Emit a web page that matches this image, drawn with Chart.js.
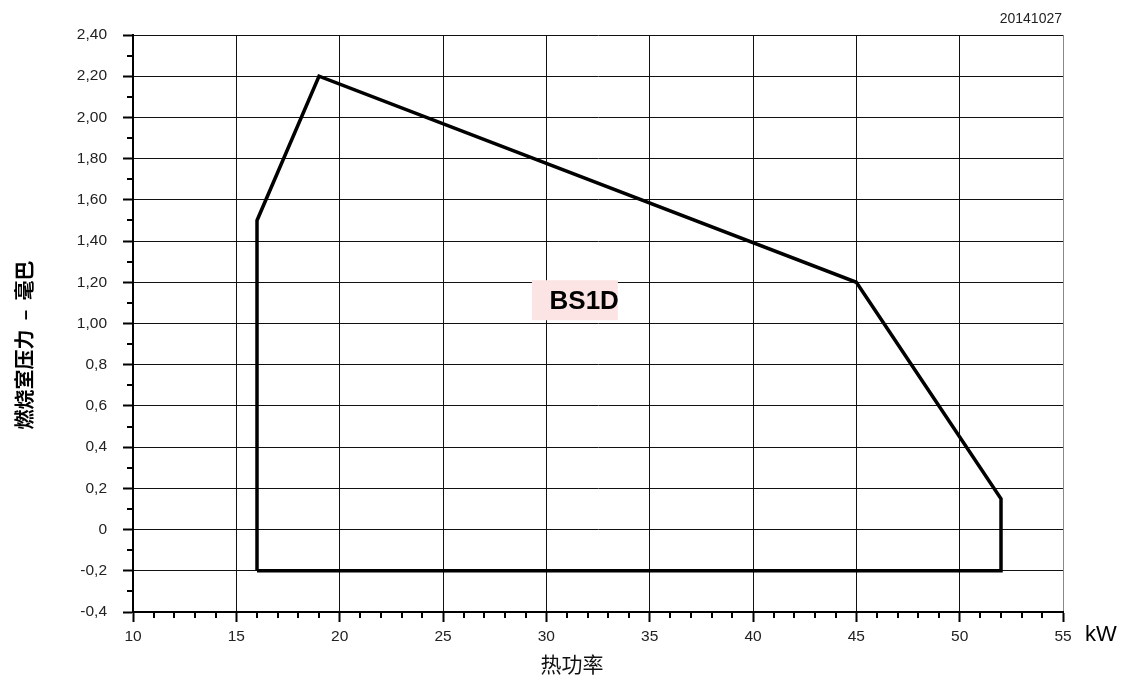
<!DOCTYPE html>
<html>
<head>
<meta charset="utf-8">
<script src="https://cdn.jsdelivr.net/npm/chart.js@4/dist/chart.umd.min.js"></script>
<style>
html,body{margin:0;padding:0;background:#fff;}
#wrap{width:1123px;height:675px;}
</style>
</head>
<body>
<div id="wrap"><canvas id="c" width="1123" height="675"></canvas></div>
<script>
// ---- data ----
const powerKW = [16, 16, 19, 45, 52, 52, 16];
const pressureMbar = [-0.2, 1.5, 2.2, 1.2, 0.15, -0.2, -0.2];
const xTitle = '热功率';
const yTitle = '燃烧室压力  –  毫巴';
const unitLabel = 'kW';
const dateLabel = '20141027';
const modelLabel = 'BS1D';
const modelAnchor = [29.3, 1.21]; // left/top of label box in data units

const TICK_FONT = '"Liberation Sans", Arial, sans-serif';

function fmtY(v) {
  const r = Math.round(v * 10) / 10;
  if (Math.abs(r) < 1e-9) return '0';
  if (Math.abs(r) >= 1) return r.toFixed(2).replace('.', ',');
  return r.toFixed(1).replace('.', ',');
}

const decor = {
  id: 'decor',
  afterDatasetsDraw(chart) {
    const ctx = chart.ctx;
    const xs = chart.scales.x, ys = chart.scales.y;
    const ca = chart.chartArea;
    ctx.save();
    // minor ticks
    ctx.strokeStyle = '#000';
    ctx.lineWidth = 2;
    ctx.beginPath();
    for (let v = 10; v <= 55; v++) {
      if (v % 5 === 0) continue;
      const px = Math.round(xs.getPixelForValue(v));
      ctx.moveTo(px, ca.bottom);
      ctx.lineTo(px, ca.bottom + 6);
    }
    for (let k = -3; k <= 23; k += 2) {
      const py = Math.round(ys.getPixelForValue(k / 10));
      ctx.moveTo(ca.left - 6, py);
      ctx.lineTo(ca.left, py);
    }
    ctx.stroke();

    // model label box
    const bx = xs.getPixelForValue(modelAnchor[0]);
    const by = ys.getPixelForValue(modelAnchor[1]);
    ctx.fillStyle = '#fde4e4';
    ctx.fillRect(bx, by, 86, 40);
    ctx.fillStyle = '#000';
    ctx.font = 'bold 26px "Liberation Sans", Arial, sans-serif';
    ctx.textAlign = 'right';
    ctx.textBaseline = 'middle';
    ctx.fillText(modelLabel, bx + 87, by + 22);

    // date
    ctx.font = '14px "Liberation Sans", Arial, sans-serif';
    ctx.textAlign = 'right';
    ctx.fillStyle = '#222';
    ctx.fillText(dateLabel, ca.right - 1, 19);

    // unit
    ctx.font = '22px "Liberation Sans", Arial, sans-serif';
    ctx.textAlign = 'left';
    ctx.fillStyle = '#000';
    ctx.fillText(unitLabel, 1085, 635);

    // x title
    ctx.font = '21px "Noto Sans CJK SC", sans-serif';
    ctx.textAlign = 'center';
    ctx.fillStyle = '#111';
    ctx.fillText(xTitle, 572, 664);

    // y title
    ctx.translate(24, 345);
    ctx.rotate(-Math.PI / 2);
    ctx.font = 'bold 20px "Noto Sans CJK SC", sans-serif';
    ctx.fillStyle = '#000';
    ctx.fillText(yTitle, 0, 0);
    ctx.restore();
  }
};

new Chart(document.getElementById('c'), {
  type: 'scatter',
  data: {
    datasets: [{
      data: powerKW.map((x, i) => ({ x: x, y: pressureMbar[i] })),
      showLine: true,
      borderColor: '#000',
      borderWidth: 3.5,
      pointRadius: 0,
      fill: false,
      tension: 0,
      borderJoinStyle: 'miter'
    }]
  },
  options: {
    responsive: false,
    animation: false,
    plugins: { legend: { display: false }, tooltip: { enabled: false } },
    layout: { padding: { top: 35, right: 60, left: 0, bottom: 0 } },
    scales: {
      x: {
        type: 'linear',
        min: 10, max: 55,
        afterFit(s) { s.height = 63; },
        ticks: {
          stepSize: 5,
          color: '#222',
          padding: 5,
          font: { family: TICK_FONT, size: 15.5 },
          maxRotation: 0,
          callback: v => String(v)
        },
        grid: {
          color: ctx => (ctx.tick && ctx.tick.value === 55) ? '#888' : '#111',
          lineWidth: 1,
          drawTicks: true,
          tickLength: 10,
          tickColor: '#000',
          tickWidth: 2
        },
        border: { color: '#000', width: 2 }
      },
      y: {
        type: 'linear',
        min: -0.4, max: 2.4,
        afterFit(s) { s.width = 133; },
        ticks: {
          stepSize: 0.2,
          color: '#222',
          padding: 16,
          font: { family: TICK_FONT, size: 15.5 },
          callback: v => fmtY(v)
        },
        grid: {
          color: '#111',
          lineWidth: 1,
          drawTicks: true,
          tickLength: 10,
          tickColor: '#000',
          tickWidth: 2
        },
        border: { color: '#000', width: 2 }
      }
    }
  },
  plugins: [decor]
});
</script>
</body>
</html>
